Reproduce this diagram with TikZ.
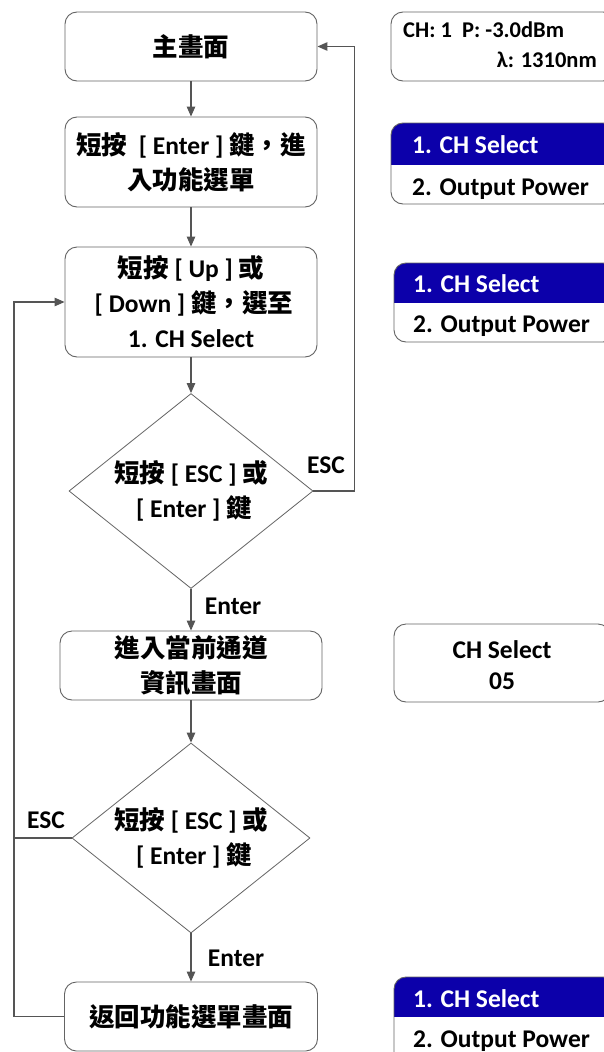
\documentclass[tikz,border=0pt]{standalone}
\usepackage{fontspec}
\setmainfont{Carlito}
\newfontfamily\cjkfont{Noto Sans CJK TC}
\usetikzlibrary{shapes.geometric,arrows.meta}
\definecolor{linegray}{RGB}{85,85,85}
\definecolor{boxgray}{RGB}{100,100,100}
\definecolor{selblue}{RGB}{12,0,170}
\newcommand\zh[1]{{\cjkfont #1}}
\begin{document}
\begin{tikzpicture}[x=1pt,y=-1pt,
  font=\fontsize{25.5}{35}\selectfont\bfseries,
  flowbox/.style={draw=boxgray,line width=0.9pt,rounded corners=12pt,minimum width=252pt,inner sep=0pt,align=center},
  decision/.style={draw=boxgray,line width=0.8pt,shape=diamond,inner sep=0pt},
  conn/.style={draw=linegray,line width=1.2pt,-{Triangle[length=10pt,width=8.5pt]}},
  plainline/.style={draw=linegray,line width=1.2pt},
  panel/.style={draw=boxgray,line width=0.9pt,rounded corners=12pt},
  lbl/.style={inner sep=0pt},
  ptext/.style={inner sep=0pt}
]
\useasboundingbox (0,0) rectangle (603,1052);
\fill[white] (0,0) rectangle (603,1052);

% left column
\node[flowbox,minimum height=69pt] (b1) at (191,46.5) {\zh{主畫面}};
\node[flowbox,minimum height=90pt] (b2) at (191,162) {\zh{短按} \ [ Enter ] \zh{鍵，進}\\\zh{入功能選單}};
\node[flowbox,minimum height=110pt] (b3) at (191,302) {\zh{短按} [ Up ] \zh{或}\\{} [ Down ] \zh{鍵，選至}\\1. CH Select};
\node[decision,minimum width=244pt,minimum height=195pt] (d1) at (191,491) {};
\node[lbl,align=center] (d1t) at (d1.center) {\zh{短按} [ ESC ] \zh{或}\\{} [ Enter ] \zh{鍵}};
\node[flowbox,minimum width=262pt,minimum height=69pt] (b4) at (191,665.5) {\zh{進入當前通道}\\\zh{資訊畫面}};
\node[decision,minimum width=238pt,minimum height=190pt] (d2) at (191,838) {};
\node[lbl,align=center] (d2t) at (d2.center) {\zh{短按} [ ESC ] \zh{或}\\{} [ Enter ] \zh{鍵}};
\node[flowbox,minimum width=253pt,minimum height=69pt] (b5) at (191,1016.5) {\zh{返回功能選單畫面}};

\draw[conn] (b1) -- (b2);
\draw[conn] (b2) -- (b3);
\draw[conn] (b3) -- (d1);
\draw[conn] (d1) -- (b4);
\draw[conn] (b4) -- (d2);
\draw[conn] (d2) -- (b5);
\draw[conn] (d1.east) -- ++(41,0) |- (b1.east);
\draw[conn] (b5.west) -- ++(-50,0) |- (b3.west);
\coordinate (lj) at (14.5,838);
\draw[plainline] (d2.west) -- (lj);

\node[lbl] (esc1) at (326,465) {ESC};
\node[lbl] (ent1) at (233,606) {Enter};
\node[lbl] (esc2) at (46,820) {ESC};
\node[lbl] (ent2) at (236,958) {Enter};

% right column panels
\draw[panel] (391,12) rectangle (615,81);
\node[ptext,anchor=base west,font=\fontsize{22.5}{28}\selectfont\bfseries] (r1a) at (403,37.5) {CH: 1 \ P: -3.0dBm};
\node[ptext,anchor=base east,font=\fontsize{22.5}{28}\selectfont\bfseries] (r1b) at (597,67) {λ: 1310nm};

\begin{scope}
\clip[rounded corners=12pt] (391,123) rectangle (615,204);
\fill[selblue] (391,123) rectangle (615,165);
\end{scope}
\draw[panel] (391,123) rectangle (615,204);
\node[ptext,anchor=base west,text=white] (r2a) at (412,153) {1. CH Select};
\node[ptext,anchor=base west] (r2b) at (412,195) {2. Output Power};

\begin{scope}
\clip[rounded corners=12pt] (394,263) rectangle (615,342);
\fill[selblue] (394,263) rectangle (615,303);
\end{scope}
\draw[panel] (394,263) rectangle (615,342);
\node[ptext,anchor=base west,text=white] (r3a) at (413,292) {1. CH Select};
\node[ptext,anchor=base west] (r3b) at (413,332) {2. Output Power};

\draw[panel] (394,624) rectangle (610,702);
\node[ptext,align=center,font=\fontsize{25.5}{31}\selectfont\bfseries] (r4) at (502,665) {CH Select\\05};

\begin{scope}
\clip[rounded corners=12pt] (394,977) rectangle (615,1070);
\fill[selblue] (394,977) rectangle (615,1017);
\end{scope}
\draw[panel] (394,977) rectangle (615,1070);
\node[ptext,anchor=base west,text=white] (r5a) at (413,1007) {1. CH Select};
\node[ptext,anchor=base west] (r5b) at (413,1047) {2. Output Power};
\end{tikzpicture}
\end{document}
